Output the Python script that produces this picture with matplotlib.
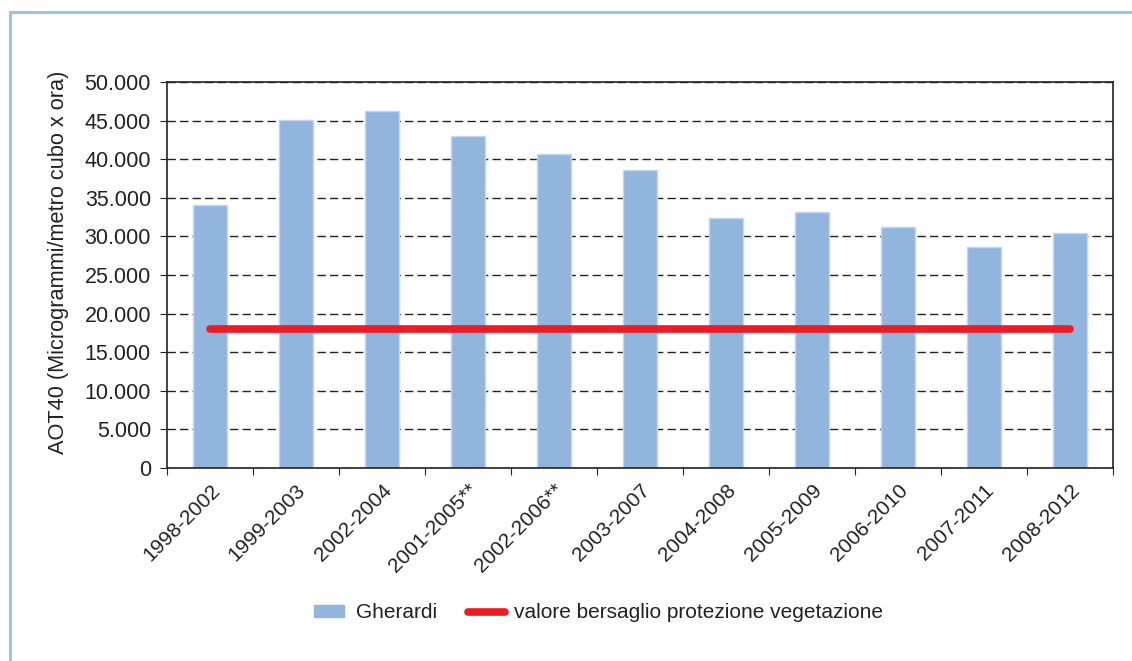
import matplotlib.pyplot as plt
from matplotlib.patches import Rectangle
from matplotlib.lines import Line2D
from matplotlib.legend_handler import HandlerPatch
from matplotlib.ticker import FuncFormatter

plt.rcParams['font.family'] = ['Liberation Sans', 'DejaVu Sans']

periodi = ['1998-2002', '1999-2003', '2002-2004', '2001-2005**', '2002-2006**',
           '2003-2007', '2004-2008', '2005-2009', '2006-2010', '2007-2011', '2008-2012']
gherardi = [34000, 45100, 46200, 43000, 40700, 38600, 32400, 33200, 31200, 28600, 30400]
bersaglio = [18000] * len(periodi)

fig = plt.figure(figsize=(11.32, 6.61), dpi=100)
ax = fig.add_axes([0.1475, 0.292, 0.8355, 0.584])

# cornice azzurra
fig.patches.append(Rectangle((10 / 1132, -0.05), 1.2, 1 - 12 / 661 + 0.05,
                             transform=fig.transFigure, fill=False,
                             edgecolor='#9fc2e7', linewidth=2.2))

x = range(len(periodi))
ax.bar(x, gherardi, width=0.39, color='#92b5dd', edgecolor='#c3d7ee',
       linewidth=1, zorder=2)
ax.plot(x, bersaglio, color='#ed1c24', linewidth=5.5,
        solid_capstyle='round', zorder=3)

ax.set_xlim(-0.5, len(periodi) - 0.5)
ax.set_ylim(0, 50000)
ax.set_yticks(range(0, 50001, 5000))
ax.yaxis.set_major_formatter(FuncFormatter(lambda v, p: f'{int(v):,}'.replace(',', '.')))
ax.grid(axis='y', color='#222222', linestyle=(0, (6, 3)), linewidth=1, zorder=1)

ax.set_xticks([i + 0.5 for i in range(-1, len(periodi))])
ax.set_xticklabels([])
ax.set_xticks(list(x), minor=True)
ax.set_xticklabels(periodi, minor=True, rotation=45, ha='right', va='top',
                   rotation_mode='anchor', fontsize=15, color='#222222')
ax.tick_params(axis='x', which='minor', length=0, pad=9)
ax.tick_params(axis='x', which='major', length=5, direction='out', color='#222222')
ax.tick_params(axis='y', length=5, direction='out', labelsize=15.5, pad=6.5,
               labelcolor='#222222', color='#222222')

for s in ax.spines.values():
    s.set_color('#222222')
    s.set_linewidth(1.2)

ax.set_ylabel('AOT40 (Microgrammi/metro cubo x ora)', fontsize=15.7, color='#222222')
ax.yaxis.set_label_coords(-0.104, 0.534)


def patch_corto(legend, orig_handle, xdescent, ydescent, width, height, fontsize):
    return Rectangle((-xdescent + width * 0.12, -ydescent), width * 0.82, height)


handles = [Rectangle((0, 0), 1, 1, color='#92b5dd'),
           Line2D([0], [0], color='#ed1c24', linewidth=5.5, solid_capstyle='round')]
fig.legend(handles, ['Gherardi', 'valore bersaglio protezione vegetazione'],
           loc='center', bbox_to_anchor=(0.527, 1 - 613 / 661), ncol=2,
           frameon=False, fontsize=15, handlelength=1.75, handleheight=0.5,
           columnspacing=1.5, handletextpad=0.45, labelcolor='#222222',
           handler_map={Rectangle: HandlerPatch(patch_func=patch_corto)})

fig.savefig('out.png', dpi=100)
